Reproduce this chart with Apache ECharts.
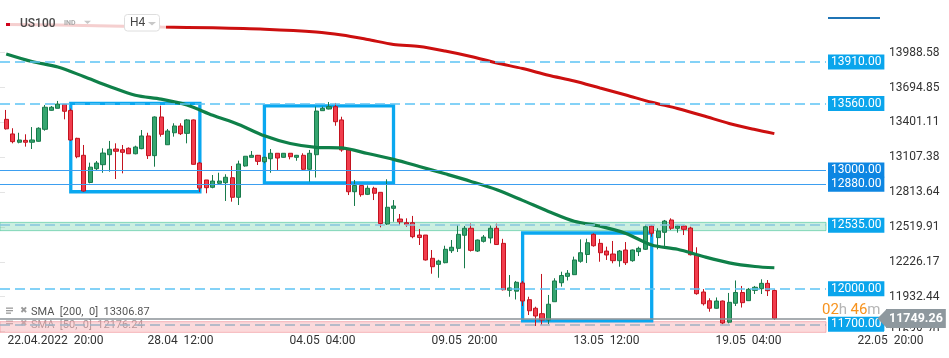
<!DOCTYPE html>
<html><head><meta charset="utf-8">
<script src="https://cdn.jsdelivr.net/npm/echarts@6/dist/echarts.min.js"></script>
<style>html,body{margin:0;padding:0;background:#fff}#c{width:949px;height:358px}</style>
</head><body><div id="c"></div>
<script>
// ---------- DATA ----------
const tradingDays = ['22.04','25.04','26.04','27.04','28.04','29.04','02.05','03.05','04.05','05.05','06.05','09.05','10.05','11.05','12.05','13.05','16.05','17.05','18.05','19.05','20.05','21.05','22.05','23.05','24.05'];
const barHours = ['00:00','04:00','08:00','12:00','16:00','20:00'];
const categoryCount = 146;

// [open, close, low, high]
const candles = [
[13427,13347,13341,13506],[13304,13239,13225,13352],[13234,13253,13225,13314],[13250,13234,13197,13301],[13234,13253,13177,13362],
[13242,13352,13239,13360],[13343,13529,13331,13548],[13503,13529,13500,13539],[13520,13556,13520,13582],[13554,13495,13427,13554],
[13502,13253,13245,13518],[13267,13112,13099,13272],[13124,12823,12817,13211],[12895,13024,12888,13062],[13011,13059,12992,13076],
[13045,13143,12977,13183],[13129,13175,12986,13245],[13177,13158,12924,13225],[13171,13149,12972,13211],[13183,13137,13135,13191],
[13137,13194,13132,13205],[13180,13287,13175,13337],[13287,13121,13093,13314],[13121,13447,13028,13452],[13447,13301,13281,13542],
[13213,13329,13211,13346],[13314,13371,13281,13394],[13371,13306,13295,13394],[13309,13422,13225,13430],[13422,13048,13046,13426],
[13059,12848,12815,13068],[12916,12851,12804,12916],[12854,12907,12846,12958],[12888,12907,12880,12977],[12893,12939,12739,12964],
[12935,12770,12733,13034],[12770,13051,12705,13079],[13034,13116,13028,13118],[13107,13124,13107,13160],[13124,13073,13042,13127],
[13070,13107,13057,13112],[13095,13141,12977,13177],[13141,13101,12992,13141],[13107,13141,13105,13143],[13141,13112,13090,13143],
[13107,13124,13078,13127],[13124,13006,13000,13141],[13006,13141,12902,13169],[13129,13497,12937,13534],[13500,13520,13500,13534],
[13514,13534,13511,13573],[13534,13407,13373,13565],[13422,13169,13154,13449],[13169,12817,12789,13175],[12817,12870,12697,12916],
[12870,12792,12775,12870],[12795,12846,12789,12870],[12846,12804,12747,12859],[12812,12549,12517,12812],[12545,12686,12537,12922],
[12677,12697,12564,12747],[12587,12564,12537,12629],[12556,12543,12522,12593],[12556,12438,12425,12613],[12452,12431,12368,12503],
[12452,12242,12237,12452],[12256,12185,12126,12326],[12205,12233,12092,12244],[12219,12332,12214,12362],[12320,12349,12301,12410],
[12340,12458,12309,12537],[12450,12509,12172,12528],[12509,12323,12313,12549],[12317,12410,12309,12414],[12399,12435,12389,12452],
[12427,12509,12382,12532],[12509,12372,12368,12548],[12382,11991,11985,12420],[11986,12006,11932,12115],[11979,12054,11909,12065],
[12048,11896,11854,12065],[11907,11814,11778,11932],[11835,11770,11686,11848],[11789,11736,11694,12124],[11736,11869,11702,11947],
[11890,12065,11890,12088],[12050,12111,12017,12143],[12104,12130,12069,12157],[12118,12242,12115,12270],[12231,12303,12219,12416],
[12288,12387,12216,12421],[12458,12362,12354,12467],[12382,12303,12227,12419],[12317,12284,12242,12354],[12292,12236,12214,12402],
[12236,12317,12185,12326],[12326,12219,12200,12393],[12236,12326,12227,12330],[12312,12340,12275,12354],[12332,12522,12326,12537],
[12528,12467,12438,12537],[12430,12486,12332,12509],[12475,12570,12360,12579],[12579,12509,12495,12593],[12509,12528,12472,12537],
[12528,12500,12452,12537],[12511,12286,12280,12522],[12286,11958,11949,12349],[11972,11873,11858,11997],[11898,11835,11806,11919],
[11835,11896,11831,11926],[11896,11711,11701,11900],[11718,11885,11708,11964],[11877,11968,11854,12069],[11968,11882,11841,12023],
[11899,11995,11896,12006],[11986,12012,11955,12023],[12000,12045,11955,12079],[12045,11983,11938,12073],[11985,11749.26,11736,11995]
];

// [bar index, value]
const sma50 = [[0,13978],[4,13914],[8,13868],[12,13788],[16,13704],[20,13630],[24,13597],[28,13548],[32,13461],[36,13384],
[40,13288],[44,13223],[48,13191],[52,13186],[56,13139],[60,13090],[64,13030],[68,12968],[72,12904],[76,12834],[80,12744],
[84,12651],[88,12568],[92,12527],[96,12465],[100,12368],[104,12332],[108,12271],[112,12218],[116,12187],[119,12176.24]];
const sma200 = [[0,14226],[8,14222],[16,14214],[24,14205],[32,14198],[40,14186],[48,14163],[52,14138],[56,14100],[60,14058],
[64,14041],[68,14003],[72,13957],[76,13902],[80,13855],[84,13798],[88,13750],[92,13691],[96,13632],[100,13571],[104,13518],
[108,13457],[112,13392],[116,13341],[119,13306.87]];

const yTicks = [11638.70, 11932.44, 12226.17, 12519.91, 12813.64, 13107.38, 13401.11, 13694.85, 13988.58];
const xTickCats = ['22.04 20:00','28.04 12:00','04.05 04:00','09.05 20:00','13.05 12:00','19.05 04:00','22.05 20:00'];
const xTickLabels = ['22.04.2022  20:00','28.04  12:00','04.05  04:00','09.05  20:00','13.05  12:00','19.05  04:00','22.05  20:00'];

const dashedLevels = [13910, 13560, 12000];
const solidLevels = [13000, 12880];
const zoneLevels = [12535, 11700];
const zones = [[12559, 12489], [11722, 11632]];
// [start bar, end bar, top price, bottom price]
const boxes = [[10, 30, 13562, 12817], [40, 60, 13541, 12892], [80, 100, 12469, 11728]];
const currentPrice = 11749.26;
const countdown = ['02', '46'];
const legendRows = ['SMA  [200,  0]  13306.87', 'SMA  [50,  0]  12176.24'];
const symbolName = 'US100', symbolTag = 'IND', timeframe = 'H4';

// ---------- CHART ----------
const categories = [];
tradingDays.forEach(d => barHours.forEach(h => categories.push(d + ' ' + h)));
categories.length = categoryCount;

const yMin = 11626.5, yMax = 14432.7;
const FONT = 'Roboto, sans-serif';

const chart = echarts.init(document.getElementById('c'), null, {renderer: 'canvas'});

const blueLabel = (bg) => ({
  show: true, position: 'end', distance: 2, formatter: p => Number(p.value).toFixed(2),
  color: '#fff', backgroundColor: bg, padding: [2, 3, 1, 3], fontSize: 12, fontFamily: FONT
});

const levelLines = [];
dashedLevels.forEach(v => levelLines.push({yAxis: v, lineStyle: {type: [10, 5], color: '#5cc4f5', width: 1.5}, label: blueLabel('#0aa5ec')}));
solidLevels.forEach(v => levelLines.push({yAxis: v, lineStyle: {type: 'solid', color: '#3d9ff0', width: 1.2}, label: blueLabel('#0d86e2')}));
zoneLevels.forEach((v, i) => levelLines.push({yAxis: v, lineStyle: {type: [10, 5], color: i === 0 ? '#86c5df' : '#9fb2c4', width: 1.5}, label: blueLabel('#0aa5ec')}));
levelLines.push({yAxis: currentPrice, lineStyle: {type: 'solid', color: '#8b9297', width: 1.5},
  label: {show: true, position: 'end', distance: 60, formatter: p => Number(p.value).toFixed(2), color: '#fff',
    backgroundColor: '#8e989e', padding: [3, 3, 3, 3], fontSize: 12.5, fontWeight: 'bold', fontFamily: FONT}});

const zoneStyles = [
  {color: 'rgba(90,205,160,0.32)', borderColor: 'rgba(70,195,150,0.6)', borderWidth: 1},
  {color: 'rgba(245,150,156,0.36)', borderColor: 'rgba(240,140,148,0.6)', borderWidth: 1}
];

chart.setOption({
  animation: false,
  grid: [
    {left: 3, right: 3.6, top: 0, height: 333},
    {left: 0, width: 826, top: 0, height: 333}
  ],
  xAxis: [
    {type: 'category', data: categories, gridIndex: 0, boundaryGap: true,
      axisLine: {show: false}, axisTick: {show: false}, splitLine: {show: false},
      axisLabel: {
        interval: (i, v) => xTickCats.indexOf(v) >= 0,
        formatter: (v) => {
          const k = xTickCats.indexOf(v);
          if (k < 0) return '';
          return k === 0 ? '{first|' + xTickLabels[k] + '}' : xTickLabels[k];
        },
        margin: 2, color: '#333', fontSize: 12, fontFamily: FONT,
        rich: {first: {padding: [0, 0, 0, 34], color: '#333', fontSize: 12, fontFamily: FONT}}
      }},
    {type: 'value', gridIndex: 1, min: 0, max: 1, show: false}
  ],
  yAxis: [
    {type: 'value', gridIndex: 0, position: 'right', min: yMin, max: yMax,
      splitLine: {show: false}, axisLine: {show: false}, axisTick: {show: false},
      axisLabel: {inside: true, customValues: yTicks, formatter: v => v.toFixed(2), color: '#333', fontSize: 12, margin: 6, fontFamily: FONT}},
    {type: 'value', gridIndex: 1, position: 'right', min: yMin, max: yMax, offset: 56,
      splitLine: {show: false}, axisLine: {show: false}, axisLabel: {show: false},
      axisTick: {show: true, customValues: yTicks, length: 5, lineStyle: {color: '#e4e4e4'}}}
  ],
  series: [
    {type: 'candlestick', xAxisIndex: 0, yAxisIndex: 0, data: candles, barWidth: 4.6, z: 2,
      itemStyle: {color: '#35a56f', color0: '#f13d4d', borderColor: '#187a4b', borderColor0: '#c3131f', borderWidth: 1}},
    {type: 'line', xAxisIndex: 0, yAxisIndex: 0, data: sma50, smooth: 0.3, symbol: 'none', z: 3,
      lineStyle: {color: '#0f8049', width: 3.2}},
    {type: 'line', xAxisIndex: 0, yAxisIndex: 0, data: sma200, smooth: 0.3, symbol: 'none', z: 3,
      lineStyle: {color: '#cc0f0f', width: 3}},
    {type: 'line', xAxisIndex: 1, yAxisIndex: 1, data: [], z: 4, silent: true,
      markArea: {silent: true, label: {show: false},
        data: zones.map((zn, i) => [{yAxis: zn[0], itemStyle: zoneStyles[i]}, {yAxis: zn[1]}])}},
    {type: 'line', xAxisIndex: 1, yAxisIndex: 1, data: [], z: 5, silent: true,
      markLine: {silent: true, symbol: ['none', 'none'], data: levelLines}},
    {type: 'line', xAxisIndex: 0, yAxisIndex: 0, data: [], z: 6, silent: true,
      markArea: {silent: true, label: {show: false},
        itemStyle: {color: 'rgba(0,0,0,0)', borderColor: '#0aa8f0', borderWidth: 3.3},
        data: boxes.map(b => [{xAxis: categories[b[0]], yAxis: b[2]}, {xAxis: categories[b[1]], yAxis: b[3]}])}}
  ]
});

const py = chart.convertToPixel({yAxisIndex: 1}, currentPrice);

chart.setOption({
  graphic: [
    // header
    {type: 'rect', z: 100, shape: {x: 0, y: 15, width: 166, height: 18}, style: {fill: 'rgba(255,255,255,0.8)'}},
    {type: 'rect', z: 101, shape: {x: 6, y: 23, width: 4, height: 3}, style: {fill: '#d0021b'}},
    {type: 'text', z: 101, style: {x: 20, y: 23.5, text: symbolName, fill: '#4a4a4a', font: '500 12px Roboto', textVerticalAlign: 'middle'}},
    {type: 'text', z: 101, style: {x: 64, y: 23.5, text: symbolTag, fill: '#a8a8a8', font: 'bold 7px Roboto', textVerticalAlign: 'middle'}},
    {type: 'polygon', z: 101, shape: {points: [[84, 20.7], [91, 20.7], [87.5, 24]]}, style: {fill: '#c8c8c8'}},
    {type: 'rect', z: 101, shape: {x: 124.5, y: 14.5, width: 35, height: 16.5, r: 3}, style: {fill: '#fff', stroke: '#dedede', lineWidth: 1}},
    {type: 'text', z: 102, style: {x: 130, y: 23, text: timeframe, fill: '#444', font: '12px Roboto', textVerticalAlign: 'middle'}},
    {type: 'polygon', z: 102, shape: {points: [[148, 22], [156, 22], [152, 25.5]]}, style: {fill: '#c8c8c8'}},
    {type: 'line', z: 101, shape: {x1: 828, y1: 18, x2: 880, y2: 18}, style: {stroke: '#1f74b5', lineWidth: 2}},
    // the lowest price-scale label is cut off at the chart's lower edge
    {type: 'rect', z: 100, shape: {x: 884, y: 331, width: 65, height: 4}, style: {fill: '#fff'}},
    // current price arrow + countdown
    {type: 'polygon', z: 101, shape: {points: [[877.5, py], [886.5, py - 9.2], [886.5, py + 9.2]]}, style: {fill: '#8e989e'}},
    {type: 'text', z: 101, style: {x: 822, y: py - 8, textVerticalAlign: 'middle',
      text: '{o|' + countdown[0] + '}{g|h} {o|' + countdown[1] + '}{g|m}',
      rich: {o: {fill: '#f7931e', font: '15px Roboto'}, g: {fill: '#b5b5b5', font: '15px Roboto'}}}},
    // indicator legend
    {type: 'rect', z: 101, shape: {x: 6, y: 307.5, width: 7, height: 1.3}, style: {fill: '#9a9a9a'}},
    {type: 'rect', z: 101, shape: {x: 6, y: 310, width: 7, height: 1.3}, style: {fill: '#9a9a9a'}},
    {type: 'rect', z: 101, shape: {x: 6, y: 312.5, width: 5, height: 1.3}, style: {fill: '#9a9a9a'}},
    {type: 'text', z: 101, style: {x: 20, y: 311, text: '✖', fill: '#9a9a9a', font: '9px DejaVu Sans', textVerticalAlign: 'middle'}},
    {type: 'text', z: 101, style: {x: 31, y: 312, text: legendRows[0], fill: '#555', font: '11px Roboto', textVerticalAlign: 'middle'}},
    {type: 'rect', z: 0, shape: {x: 6, y: 320.5, width: 7, height: 1.3}, style: {fill: '#b0b0b0'}},
    {type: 'rect', z: 0, shape: {x: 6, y: 323, width: 7, height: 1.3}, style: {fill: '#b0b0b0'}},
    {type: 'text', z: 0, style: {x: 20, y: 324, text: '✖', fill: '#b0b0b0', font: '9px DejaVu Sans', textVerticalAlign: 'middle'}},
    {type: 'text', z: 0, style: {x: 31, y: 325.5, text: legendRows[1], fill: '#999', font: '11px Roboto', textVerticalAlign: 'middle'}}
  ]
});
</script>
</body></html>
